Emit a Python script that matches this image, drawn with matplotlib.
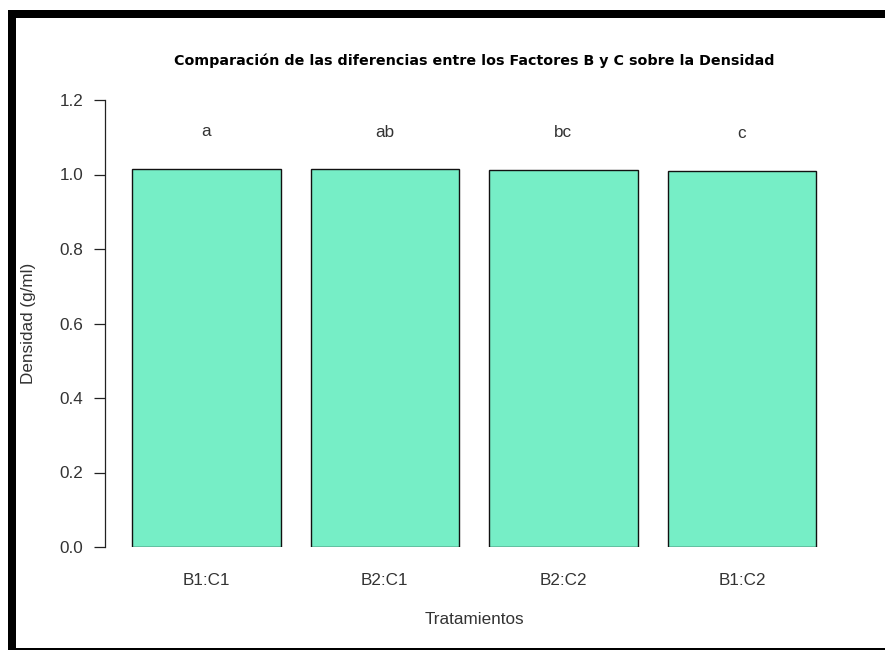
import matplotlib
matplotlib.use("Agg")
import matplotlib.pyplot as plt
from matplotlib.patches import Rectangle

# mean density per treatment and Tukey grouping letters
tratamientos = ["B1:C1", "B2:C1", "B2:C2", "B1:C2"]
densidad = [1.016, 1.014, 1.013, 1.010]
letras = ["a", "ab", "bc", "c"]

plt.rcParams["font.family"] = ["Liberation Sans", "DejaVu Sans"]
TXT = "#333333"
FS = 12.3

W, H = 885, 650
fig = plt.figure(figsize=(W / 100, H / 100), dpi=100)

# plot region in pixels (left, top, right, bottom)
L, T, R, B = 105, 100, 843, 547
ax = fig.add_axes([L / W, 1 - B / H, (R - L) / W, (B - T) / H])

# barplot-style positions: width 1, space 0.2
pos = [0.7 + 1.2 * i for i in range(len(tratamientos))]
ax.bar(pos, densidad, width=1.0, color="#76EEC6", edgecolor="#111111", linewidth=1.0)

for x, y, s in zip(pos, densidad, letras):
    ax.text(x, y + 0.1, s, ha="center", va="center", fontsize=FS, color=TXT,
            clip_on=False)

px = 148.75  # pixels per x unit
ax.set_xlim((L - 102.25) / px, (R - 102.25) / px)
ax.set_ylim(0, 1.2)

for side in ["top", "right", "bottom"]:
    ax.spines[side].set_visible(False)
ax.spines["left"].set_color("#222222")
ax.spines["left"].set_linewidth(0.9)

ax.set_yticks([0.0, 0.2, 0.4, 0.6, 0.8, 1.0, 1.2])
ax.set_yticklabels([f"{v:.1f}" for v in ax.get_yticks()], fontsize=FS, color=TXT)
ax.tick_params(axis="y", direction="out", length=7.7, width=0.9, pad=8.0, color="#222222")
ax.set_xticks(pos)
ax.set_xticklabels(tratamientos, fontsize=FS, color=TXT)
ax.tick_params(axis="x", length=0, pad=19)

fig.text(474 / W, 1 - 61 / H,
         "Comparación de las diferencias entre los Factores B y C sobre la Densidad",
         ha="center", va="center", fontsize=10.3, fontweight="bold", color="black",
         family="DejaVu Sans")
fig.text(474 / W, 1 - 620 / H, "Tratamientos", ha="center", va="center",
         fontsize=FS, color=TXT)
fig.text(28 / W, 1 - 323 / H, "Densidad (g/ml)", ha="center", va="center",
         rotation=90, fontsize=FS, color=TXT)

# outer black frame: thick top and left edges, thin bottom edge
frame = dict(facecolor="black", edgecolor="none", transform=None)
fig.add_artist(Rectangle((8, H - 18), W - 8, 8, **frame))
fig.add_artist(Rectangle((8, 0), 8, H - 10, **frame))
fig.add_artist(Rectangle((8, 0.5), W - 8, 1.5, **frame))

fig.savefig("out.png", dpi=100)
